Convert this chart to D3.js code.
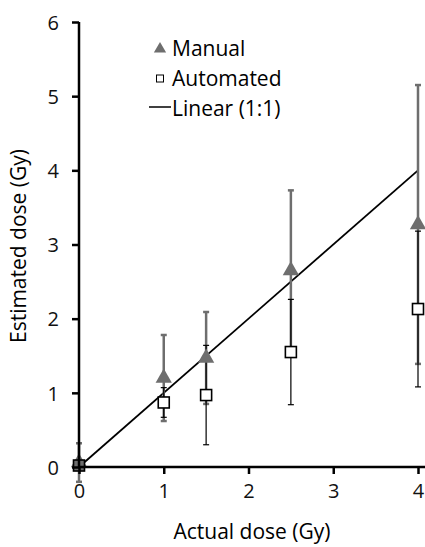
<!DOCTYPE html>
<html lang="en">
<head>
<meta charset="utf-8">
<title>Estimated vs actual dose</title>
<script src="https://d3js.org/d3.v7.min.js"></script>
<style>
  body { margin: 0; background: #fff; }
  text { font-family: "Open Sans", sans-serif; }
</style>
</head>
<body>
<svg id="chart" width="425" height="547"></svg>
<script>
// actual doses (Gy)
var doses = [0, 1, 1.5, 2.5, 4];
// manual estimates and error
var manual = [0.06, 1.2, 1.47, 2.65, 3.27];
var manualErr = [0.26, 0.58, 0.62, 1.08, 1.88];
// automated estimates and error
var automated = [0.02, 0.87, 0.97, 1.55, 2.13];
var automatedErr = [0.03, 0.2, 0.67, 0.71, 1.05];
var xTicks = [0, 1, 2, 3, 4];
var yTicks = [0, 1, 2, 3, 4, 5, 6];
var legendLabels = ["Manual", "Automated", "Linear (1:1)"];

var svg = d3.select("#chart");
var x = d3.scaleLinear().domain([0, 4]).range([79, 418]);
var y = d3.scaleLinear().domain([0, 6]).range([467, 22]);
var grey = "#6e6e6e";

// 1:1 line
svg.append("line")
  .attr("x1", x(0)).attr("y1", y(0))
  .attr("x2", x(4)).attr("y2", y(4))
  .attr("stroke", "#000").attr("stroke-width", 1.8);

function errBars(vals, errs, color, w) {
  var g = svg.append("g").attr("stroke", color).attr("stroke-width", w);
  doses.forEach(function(d, i) {
    var cx = x(d), lo = y(vals[i] - errs[i]), hi = y(vals[i] + errs[i]);
    g.append("line").attr("x1", cx).attr("x2", cx).attr("y1", lo).attr("y2", hi);
    g.append("line").attr("x1", cx - 3).attr("x2", cx + 3).attr("y1", lo).attr("y2", lo);
    g.append("line").attr("x1", cx - 3).attr("x2", cx + 3).attr("y1", hi).attr("y2", hi);
  });
}

errBars(manual, manualErr, grey, 2.5);
errBars(automated, automatedErr, "#000", 1.2);

var tri = d3.symbol().type(d3.symbolTriangle).size(115);

svg.append("g").selectAll("path")
  .data(doses)
  .join("path")
  .attr("d", tri)
  .attr("transform", function(d, i) { return "translate(" + x(d) + "," + y(manual[i]) + ")"; })
  .attr("fill", grey);

svg.append("g").selectAll("rect")
  .data(doses)
  .join("rect")
  .attr("x", function(d) { return x(d) - 5.5; })
  .attr("y", function(d, i) { return y(automated[i]) - 5.5; })
  .attr("width", 11).attr("height", 11)
  .attr("fill", function(d, i) { return i === 0 ? grey : "#fff"; })
  .attr("stroke", "#000").attr("stroke-width", 1.6);

// axes
var xAxis = d3.axisBottom(x).tickValues(xTicks).tickSize(7).tickPadding(10).tickFormat(d3.format("d"));
var yAxis = d3.axisLeft(y).tickValues(yTicks).tickSize(7).tickPadding(13).tickFormat(d3.format("d"));

var gx = svg.append("g").attr("transform", "translate(0," + y(0) + ")").call(xAxis);
var gy = svg.append("g").attr("transform", "translate(" + x(0) + ",0)").call(yAxis);
gx.select(".domain").attr("d", "M" + x(0) + ",0H430");
gy.select(".domain").attr("d", "M0," + y(6) + "V" + y(0));
[gx, gy].forEach(function(g) {
  g.selectAll(".domain, .tick line").attr("stroke", "#000").attr("stroke-width", 2.5);
  g.selectAll("text").attr("font-size", 20).attr("fill", "#111");
});
gy.selectAll(".tick text").attr("dy", "0.36em");

svg.append("text")
  .attr("x", 252).attr("y", 539)
  .attr("text-anchor", "middle").attr("font-size", 21)
  .text("Actual dose (Gy)");

svg.append("text")
  .attr("transform", "translate(26,246) rotate(-90)")
  .attr("text-anchor", "middle").attr("font-size", 21)
  .text("Estimated dose (Gy)");

// legend
var lg = svg.append("g").attr("transform", "translate(160,0)");
lg.append("path").attr("d", d3.symbol().type(d3.symbolTriangle).size(65))
  .attr("transform", "translate(0,49)").attr("fill", grey);
lg.append("rect").attr("x", -3.5).attr("y", 75).attr("width", 7).attr("height", 7)
  .attr("fill", "#fff").attr("stroke", "#000").attr("stroke-width", 1);
lg.append("line").attr("x1", -11).attr("x2", 11).attr("y1", 107).attr("y2", 107)
  .attr("stroke", "#000").attr("stroke-width", 1.5);
lg.selectAll("text.leg")
  .data(legendLabels)
  .join("text")
  .attr("class", "leg")
  .attr("x", 12)
  .attr("y", function(d, i) { return 56 + i * 30; })
  .attr("font-size", 21)
  .text(function(d) { return d; });
</script>
</body>
</html>
